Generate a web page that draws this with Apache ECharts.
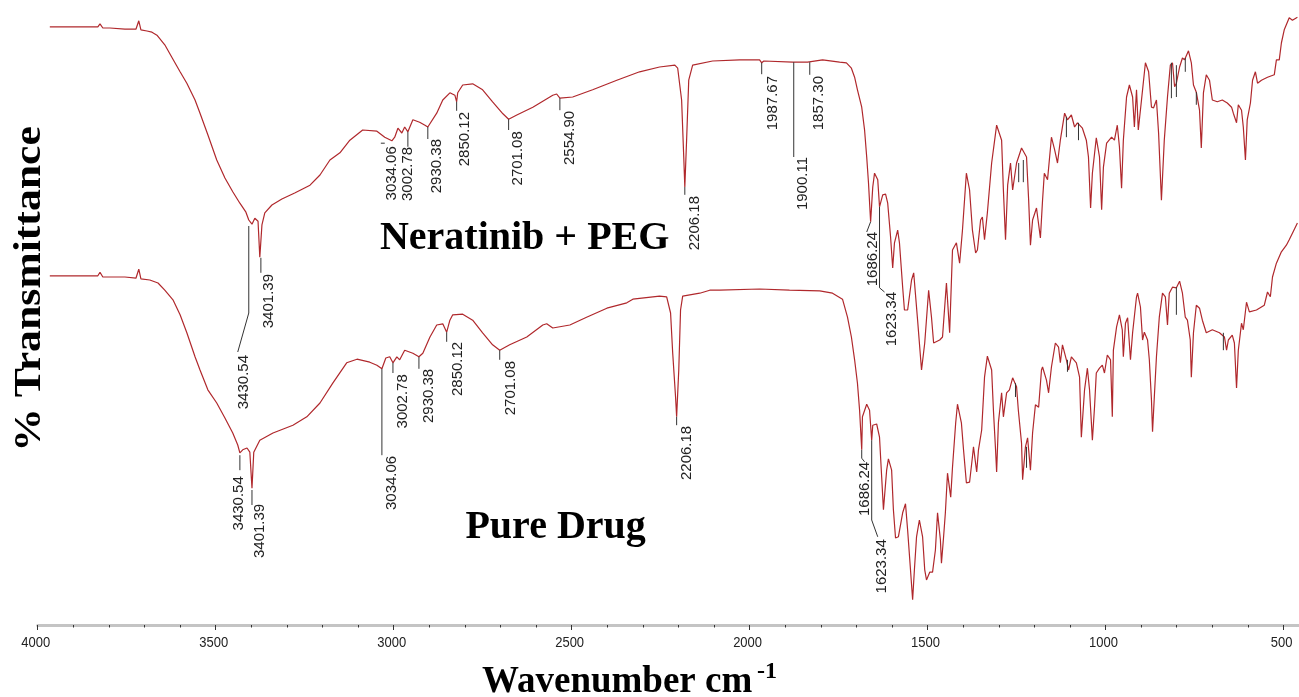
<!DOCTYPE html>
<html><head><meta charset="utf-8">
<script src="https://cdn.jsdelivr.net/npm/echarts@6/dist/echarts.min.js"></script>
<style>html,body{margin:0;padding:0;background:#fff}#chart{width:1299px;height:697px}</style>
</head><body><div id="chart"></div>
<script>
// ---------- DATA (wavenumber in cm-1, transmittance in arbitrary % units) ----------
const xTickValues = [4000, 3500, 3000, 2500, 2000, 1500, 1000, 500];

const wavenumberPEG = [3966,3881,3831,3825,3817,3797,3755,3724,3716,3710,3693,3679,3665,3643,3620,3600,3581,3558,3544,3522,3497,3474,3452,3432,3415,3407,3398,3390,3381,3376,3370,3362,3342,3314,3278,3235,3207,3179,3151,3123,3087,3047,3025,3005,2997,2988,2977,2969,2960,2946,2927,2912,2904,2879,2862,2842,2828,2823,2820,2806,2778,2750,2722,2693,2677,2654,2609,2553,2542,2533,2497,2441,2373,2309,2253,2210,2202,2191,2185,2182,2177,2171,2160,2104,2028,1972,1966,1960,1879,1874,1837,1795,1747,1728,1714,1705,1697,1685,1677,1671,1666,1660,1654,1649,1640,1635,1626,1618,1612,1604,1598,1593,1584,1579,1570,1565,1556,1545,1539,1528,1517,1508,1497,1489,1483,1466,1458,1447,1438,1430,1419,1410,1402,1391,1382,1374,1365,1360,1351,1346,1340,1332,1320,1306,1292,1287,1281,1275,1267,1261,1250,1236,1222,1216,1211,1205,1194,1183,1177,1172,1163,1152,1143,1135,1127,1115,1107,1096,1087,1079,1065,1054,1048,1042,1037,1026,1017,1011,1006,997,983,975,967,961,955,950,941,933,924,919,913,908,899,888,879,871,865,857,851,843,835,826,818,812,806,801,792,784,778,767,759,753,745,736,731,725,717,708,700,686,672,658,646,641,632,627,618,613,607,602,593,587,579,573,562,545,526,520,512,506,498,484,475,461];
const transmittancePEG = [99.7,99.7,99.7,100.2,99.5,99.5,99.3,99.3,100.7,99.2,99.0,98.8,98.3,96.7,94.3,92.2,90.3,87.5,85.3,81.7,77.5,74.5,72.2,70.3,68.8,67.5,66.8,67.8,67.3,61.3,66.7,68.7,70.0,71.0,72.0,73.3,75.0,77.5,78.7,80.8,82.5,82.3,81.3,80.7,81.3,82.8,82.0,83.0,82.2,84.2,83.8,83.3,83.0,85.3,87.5,88.7,88.3,87.2,88.7,90.0,90.2,89.2,87.2,85.2,84.3,85.0,86.3,88.3,88.5,87.8,88.0,89.2,90.8,92.2,93.0,93.3,92.8,87.5,78.0,73.0,80.8,90.8,93.3,94.0,94.2,94.2,93.7,94.0,93.8,94.0,93.8,94.2,93.8,93.7,92.8,91.3,89.2,86.3,82.5,78.0,73.7,67.2,73.0,75.3,74.2,69.7,71.7,71.8,70.3,64.7,59.5,63.7,65.8,63.7,56.3,52.5,52.5,57.5,58.7,50.8,42.5,47.0,55.8,51.3,47.0,47.5,48.0,57.0,48.7,62.5,63.7,60.3,65.8,75.3,72.5,65.8,62.0,62.5,67.5,68.0,64.2,68.7,77.0,83.3,80.8,72.5,64.2,73.3,77.0,72.5,77.0,79.5,78.0,70.8,63.3,67.5,69.5,64.5,70.8,75.3,74.2,81.3,79.2,77.0,80.8,85.3,84.2,85.0,83.0,83.7,82.8,80.8,78.0,69.5,75.3,81.2,78.0,69.2,76.3,80.3,81.3,80.8,83.3,79.7,72.8,80.8,88.0,90.0,88.0,83.0,89.2,82.5,87.5,93.7,92.2,86.3,86.2,87.5,82.0,70.8,80.8,88.0,93.3,93.7,89.7,90.3,93.0,94.5,94.2,95.7,93.7,90.0,88.8,85.8,79.5,88.7,91.7,90.8,87.5,87.2,87.5,87.0,86.3,85.3,83.7,86.7,85.8,83.0,77.5,84.2,87.0,90.8,92.2,90.3,90.8,91.3,91.7,94.2,94.2,97.0,99.2,101.2,100.8,101.3];

const wavenumberPure = [3966,3881,3831,3825,3817,3755,3724,3716,3710,3685,3662,3643,3620,3600,3581,3558,3544,3522,3497,3474,3452,3438,3432,3424,3412,3404,3398,3393,3376,3339,3283,3244,3207,3171,3132,3103,3067,3047,3033,3022,3011,3002,2991,2983,2969,2946,2929,2918,2898,2879,2862,2851,2842,2834,2806,2778,2750,2722,2702,2674,2626,2581,2570,2553,2505,2458,2401,2345,2328,2253,2233,2222,2216,2208,2205,2199,2194,2188,2140,2112,2084,1972,1888,1803,1767,1739,1725,1714,1705,1697,1691,1685,1683,1671,1663,1657,1654,1643,1635,1629,1624,1615,1610,1601,1596,1590,1582,1570,1562,1556,1548,1542,1537,1531,1523,1514,1508,1503,1494,1486,1478,1472,1464,1461,1455,1450,1444,1435,1430,1421,1416,1405,1399,1391,1382,1374,1371,1362,1357,1348,1340,1332,1320,1315,1309,1306,1301,1292,1287,1278,1270,1261,1250,1245,1236,1233,1225,1219,1211,1205,1197,1188,1180,1177,1166,1160,1152,1141,1132,1127,1121,1110,1104,1096,1082,1073,1068,1059,1051,1045,1037,1031,1026,1017,1009,1003,995,986,981,978,969,961,953,950,944,938,930,924,913,910,902,896,891,882,877,871,868,863,857,849,840,832,826,821,812,801,792,784,776,770,762,759,753,745,736,728,717,700,680,666,660,655,644,638,632,627,618,613,604,596,576,554,545,537,531,520,506,492,484,475,461];
const transmittancePure = [58.2,58.2,58.2,58.8,58.0,58.0,57.8,59.3,57.7,57.5,57.0,55.8,54.2,51.7,48.7,44.7,42.5,39.2,37.0,34.5,32.0,30.0,28.7,29.2,29.5,28.8,22.8,28.8,30.8,32.0,33.3,34.7,37.0,40.3,43.7,44.3,43.8,43.3,42.7,44.5,44.7,43.7,44.7,44.2,45.8,45.3,44.7,45.3,48.0,50.0,50.2,48.8,50.8,51.7,51.8,50.8,48.7,46.7,45.8,46.7,48.0,50.0,50.2,49.5,50.0,51.3,52.8,53.7,54.3,54.8,54.7,52.0,45.3,38.0,34.7,42.5,52.5,54.8,55.3,55.8,55.8,56.0,55.8,55.7,55.3,54.3,51.3,48.0,44.2,40.3,35.8,29.2,34.7,36.8,35.8,30.8,33.3,33.5,31.3,24.7,19.2,25.8,27.7,25.8,19.2,14.5,14.7,18.7,20.2,15.8,9.2,4.2,9.2,14.7,17.5,14.7,9.2,7.5,8.8,8.8,12.5,18.7,14.2,10.3,14.7,18.7,25.3,21.3,26.3,33.7,36.8,33.7,29.2,23.7,23.8,28.0,29.7,25.5,29.2,32.5,41.3,44.8,42.5,35.8,29.2,25.5,33.7,38.7,34.7,38.7,39.2,41.2,39.7,35.8,30.3,24.2,29.7,31.2,25.8,32.0,36.7,36.3,42.5,43.0,40.8,38.7,43.0,47.0,46.3,43.7,46.7,44.2,42.5,44.7,43.7,41.3,31.3,39.2,42.8,39.2,30.8,36.3,42.0,42.8,43.3,42.0,45.0,44.2,34.7,45.8,49.7,51.7,49.2,44.7,50.3,51.2,44.2,48.7,54.7,55.3,53.0,47.5,48.8,47.5,44.2,37.5,32.2,38.0,44.7,51.3,55.3,54.7,50.0,55.3,56.3,56.2,57.3,55.3,51.3,50.8,47.5,41.3,48.7,53.3,52.8,50.8,48.7,49.2,48.7,48.0,45.8,47.5,48.3,47.0,39.5,45.8,50.3,49.2,53.8,52.2,52.5,53.3,55.5,54.7,58.0,60.3,62.2,63.3,64.2,65.3,67.0];

// Peak annotations: label text, leader line (wavenumber, transmittance) and text anchor
const pegPeakText = ['3430.54','3401.39','3034.06','3002.78','2930.38','2850.12','2701.08','2554.90','2206.18','1987.67','1900.11','1857.30','1686.24','1623.34'];
const pegPeakLeader = [
  [[3407,66.5],[3407,52.0],[3438,45.5]],
  [[3373,61.2],[3373,58.7]],
  [[3036,80.3],[3025,80.3]],
  [[2960,82.2],[2960,79.7]],
  [[2904,83.0],[2904,81.0]],
  [[2823,87.2],[2823,85.7]],
  [[2677,84.3],[2677,82.5]],
  [[2533,87.8],[2533,85.8]],
  [[2182,73.0],[2182,71.7]],
  [[1966,93.7],[1966,91.8]],
  [[1876,93.8],[1876,78.0]],
  [[1831,93.8],[1831,91.7]],
  [[1660,67.2],[1671,65.5]],
  [[1635,69.7],[1635,56.2],[1621,55.5]]
];
const pegPeakTextAt = [[3443,45.0],[3373,58.5],[3025,79.8],[2980,79.7],[2901,81.0],[2820,85.5],[2671,82.3],[2525,85.7],[2174,71.5],[1955,91.5],[1871,78.0],[1826,91.5],[1674,65.5],[1621,55.5]];

const purePeakText = ['3430.54','3401.39','3034.06','3002.78','2930.38','2850.12','2701.08','2206.18','1686.24','1623.34'];
const purePeakLeader = [
  [[3432,28.3],[3432,25.8]],
  [[3398,22.5],[3398,20.0]],
  [[3033,42.7],[3033,28.3]],
  [[3002,43.7],[3002,42.0]],
  [[2929,44.7],[2929,42.7]],
  [[2851,48.8],[2851,47.2]],
  [[2702,45.8],[2702,44.2]],
  [[2205,34.7],[2205,33.3]],
  [[1685,29.2],[1685,27.8],[1677,27.2]],
  [[1657,30.8],[1657,17.5],[1640,14.7]]
];
const purePeakTextAt = [[3457,24.8],[3396,20.2],[3025,28.2],[2994,41.8],[2921,42.7],[2840,47.2],[2693,44.0],[2196,33.2],[1697,27.2],[1649,14.3]];

// Unlabelled peak-pick marks: [wavenumber, T from, T to]
const unlabeledPeakMarks = [
  [1244,77.0,73.8],[1231,77.5,73.8],[1110,84.7,81.3],[1076,83.7,80.8],[815,93.7,87.8],[801,93.3,88.0],[776,94.5,92.2],[745,88.8,86.7],
  [1222,29.7,26.2],[801,56.3,51.7],[669,48.7,45.8],[1253,40.3,38.0],[1107,44.2,42.2]
];

const spectrumTitles = ['Neratinib + PEG', 'Pure Drug'];
const spectrumTitleAt = [[2632, 64.4], [2545, 16.3]];

// ---------- CHART ----------
const LINE_COLOR = '#b0282c';
function pairs(w, t) { const n = Math.min(w.length, t.length); const out = []; for (let i = 0; i < n; i++) out.push([w[i], t[i]]); return out; }

function annotationSeries(texts, leaders, anchors) {
  return {
    type: 'custom', silent: true, clip: false, z: 6, animation: false,
    data: anchors.map((a, i) => [a[0], a[1], i]),
    encode: { x: 0, y: 1 },
    renderItem: function (params, api) {
      const i = api.value(2);
      const pts = leaders[i].map(p => api.coord(p));
      const at = api.coord([api.value(0), api.value(1)]);
      return {
        type: 'group',
        children: [
          { type: 'polyline', shape: { points: pts }, style: { stroke: '#333', lineWidth: 1, fill: null } },
          { type: 'text', x: at[0], y: at[1], rotation: Math.PI / 2,
            style: { text: texts[i], font: '15px "Liberation Sans", Arial, sans-serif', fill: '#222',
              align: 'right', verticalAlign: 'top', textAlign: 'right', textVerticalAlign: 'top' } }
        ]
      };
    }
  };
}

const chart = echarts.init(document.getElementById('chart'), null, { renderer: 'canvas' });
chart.setOption({
  animation: false,
  backgroundColor: '#ffffff',
  grid: { left: 37.7, right: -162.5, top: 10, bottom: 72, containLabel: false, outerBoundsMode: 'none' },
  xAxis: {
    type: 'value', min: 0, max: 4000, interval: 500, inverse: true,
    axisLine: { show: true, onZero: false, lineStyle: { color: '#c4c4c4', width: 3 } },
    axisTick: { show: true, length: 5, lineStyle: { color: '#333', width: 1 } },
    minorTick: { show: true, splitNumber: 5, length: 2.5, lineStyle: { color: '#333', width: 1 } },
    axisLabel: { show: false },
    splitLine: { show: false }
  },
  yAxis: { type: 'value', min: 0, max: 102.5, show: false },
  series: [
    { type: 'line', name: spectrumTitles[0], data: pairs(wavenumberPEG, transmittancePEG), symbol: 'none', showSymbol: false,
      lineStyle: { color: LINE_COLOR, width: 1.2 }, z: 3, animation: false },
    { type: 'line', name: spectrumTitles[1], data: pairs(wavenumberPure, transmittancePure), symbol: 'none', showSymbol: false,
      lineStyle: { color: LINE_COLOR, width: 1.2 }, z: 3, animation: false },
    annotationSeries(pegPeakText, pegPeakLeader, pegPeakTextAt),
    annotationSeries(purePeakText, purePeakLeader, purePeakTextAt),
    { // small unlabelled peak marks
      type: 'custom', silent: true, clip: false, z: 5, animation: false,
      data: unlabeledPeakMarks, encode: { x: 0, y: 1 },
      renderItem: function (params, api) {
        const a = api.coord([api.value(0), api.value(1)]);
        const b = api.coord([api.value(0), api.value(2)]);
        return { type: 'line', shape: { x1: a[0], y1: a[1], x2: b[0], y2: b[1] }, style: { stroke: '#333', lineWidth: 1 } };
      }
    },
    { // axis tick labels (tall, narrow look)
      type: 'custom', silent: true, clip: false, z: 6, animation: false,
      data: xTickValues.map(v => [v, 0]), encode: { x: 0, y: 1 },
      renderItem: function (params, api) {
        const c = api.coord([api.value(0), 0]);
        return { type: 'text', x: c[0] - 2, y: c[1] + 17.5, scaleY: 1.18,
          style: { text: String(api.value(0)), font: '13px "Liberation Sans", Arial, sans-serif', fill: '#222',
            align: 'center', verticalAlign: 'middle', textAlign: 'center', textVerticalAlign: 'middle' } };
      }
    },
    { // spectrum titles
      type: 'custom', silent: true, clip: false, z: 6, animation: false,
      data: spectrumTitleAt.map((p, i) => [p[0], p[1], i]), encode: { x: 0, y: 1 },
      renderItem: function (params, api) {
        const c = api.coord([api.value(0), api.value(1)]);
        return { type: 'text', x: c[0], y: c[1],
          style: { text: spectrumTitles[api.value(2)], font: 'bold 40px "Liberation Serif", "Times New Roman", serif', fill: '#000',
            align: 'center', verticalAlign: 'middle', textAlign: 'center', textVerticalAlign: 'middle' } };
      }
    }
  ],
  graphic: [
    { type: 'text', x: 482, y: 682.5, silent: true,
      style: { text: 'Wavenumber cm', font: 'bold 37px "Liberation Serif", "Times New Roman", serif', fill: '#000',
        verticalAlign: 'middle', textVerticalAlign: 'middle' } },
    { type: 'text', x: 757, y: 672, silent: true,
      style: { text: '-1', font: 'bold 24px "Liberation Serif", "Times New Roman", serif', fill: '#000',
        verticalAlign: 'middle', textVerticalAlign: 'middle' } },
    { type: 'text', x: 30, y: 289, rotation: Math.PI / 2, scaleX: 1.15, silent: true,
      style: { text: '% Transmittance', font: 'bold 38px "Liberation Serif", "Times New Roman", serif', fill: '#000',
        align: 'center', verticalAlign: 'middle', textAlign: 'center', textVerticalAlign: 'middle' } }
  ]
});
</script></body></html>
